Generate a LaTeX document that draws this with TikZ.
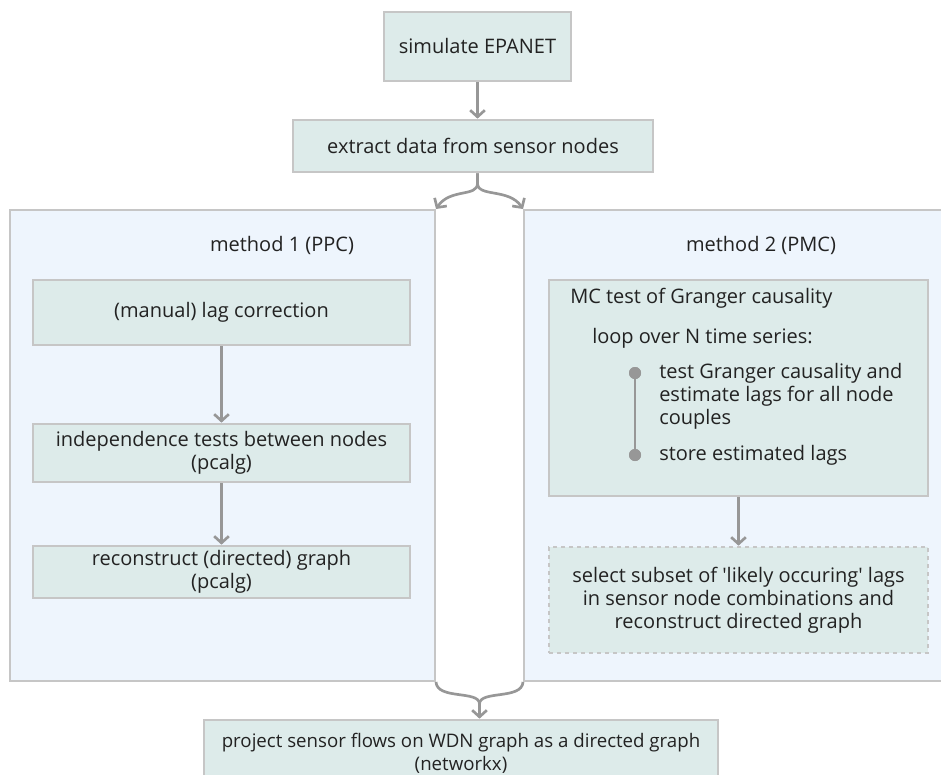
\documentclass[tikz,border=0pt]{standalone}
\usepackage{fontspec}
\setmainfont{Open Sans}
\usetikzlibrary{arrows.meta,calc}
\definecolor{panelfill}{HTML}{EEF5FD}
\definecolor{boxfill}{HTML}{DDEBEA}
\definecolor{rim}{HTML}{C6C6C6}
\definecolor{link}{HTML}{979797}
\definecolor{ink}{HTML}{222222}
\begin{document}
\begin{tikzpicture}[x=0.75pt,y=-0.75pt,
  font=\fontsize{15}{17.4}\selectfont,
  panel/.style={draw=rim, fill=panelfill, line width=1.5pt, inner sep=0pt},
  stepbox/.style={draw=rim, fill=boxfill, line width=2pt, align=center, inner sep=0pt, text=ink},
  label/.style={text=ink, inner sep=0pt},
  flow/.style={draw=link, line width=2pt, -{Straight Barb[length=5pt,width=11pt,line width=2pt]}},
  plain/.style={draw=link, line width=2pt},
  dot/.style={circle, fill=link, inner sep=0pt, minimum size=9pt}]
\clip (0,0) rectangle (941,774);
\fill[white] (0,0) rectangle (941,774);

% top of the pipeline
\node[stepbox, minimum width=140.25pt, minimum height=51.75pt] (sim) at (477.5,46.5) {simulate EPANET};
\node[stepbox, minimum width=270pt, minimum height=39pt] (ext) at (473,146) {extract data from sensor nodes};

% the two method panels
\node[panel, minimum width=318.75pt, minimum height=353.25pt] (m1) at (222.5,445.5) {};
\node[panel, minimum width=319.5pt, minimum height=353.25pt] (m2) at (737,445.5) {};
\node[label] (t1) at (282,245) {method 1 (PPC)};
\node[label] (t2) at (761,245) {method 2 (PMC)};

% method 1
\node[stepbox, minimum width=282.75pt, minimum height=48.75pt] (lag) at (221.5,312.5) {(manual) lag correction};
\node[stepbox, minimum width=282.75pt, minimum height=43.5pt] (ind) at (221.5,453) {independence tests between nodes\\(pcalg)};
\node[stepbox, minimum width=282.75pt, minimum height=39pt] (rec) at (221.5,572) {reconstruct (directed) graph\\(pcalg)};

% method 2
\node[stepbox, minimum width=284.25pt, minimum height=162pt] (mc) at (738.5,388) {};
\node[label, anchor=west] (mct) at (570,298) {MC test of Granger causality};
\node[label, anchor=west] (loop) at (592,338) {loop over N time series:};
\node[dot] (b1) at (635,373) {};
\node[dot] (b2) at (635,455) {};
\draw[plain] (b1) -- (b2);
\node[dot] at (b1) {};
\node[dot] at (b2) {};
\node[label, anchor=west, align=left] (it1) at (659,396.5) {test Granger causality and\\estimate lags for all node\\couples};
\node[label, anchor=west] (it2) at (659,455) {store estimated lags};
\node[stepbox, dashed, dash pattern=on 3pt off 3pt, minimum width=284.25pt, minimum height=79.5pt] (sel) at (738.5,600)
  {select subset of \textquotesingle likely occuring\textquotesingle{} lags\\in sensor node combinations and\\reconstruct directed graph};

% final step
\node[stepbox, font=\fontsize{14}{17.4}\selectfont, minimum width=385.5pt, minimum height=49.5pt] (prj) at (461,753) {project sensor flows on WDN graph as a directed graph\\(networkx)};

% connectors
\draw[flow] (sim.south) -- (sim.south |- ext.north);
\draw[flow] (sim.south |- ext.south) -- ++(0,10) .. controls +(0,14) and (450,188) .. (m1.north east);
\draw[flow] (sim.south |- ext.south) -- ++(0,10) .. controls +(0,14) and (509,188) .. (m2.north west);
\draw[flow] (lag) -- (ind);
\draw[flow] (ind) -- (rec);
\draw[flow] (mc) -- (sel);
\coordinate (join) at ($(m1.south east)!0.5!(m2.south west)$);
\draw[plain] (m1.south east) .. controls (437,700) and (join |- 0,690) .. (join |- 0,704);
\draw[plain] (m2.south west) .. controls (522,700) and (join |- 0,690) .. (join |- 0,704);
\draw[flow] (join |- 0,703) -- (join |- prj.north);
\end{tikzpicture}
\end{document}
